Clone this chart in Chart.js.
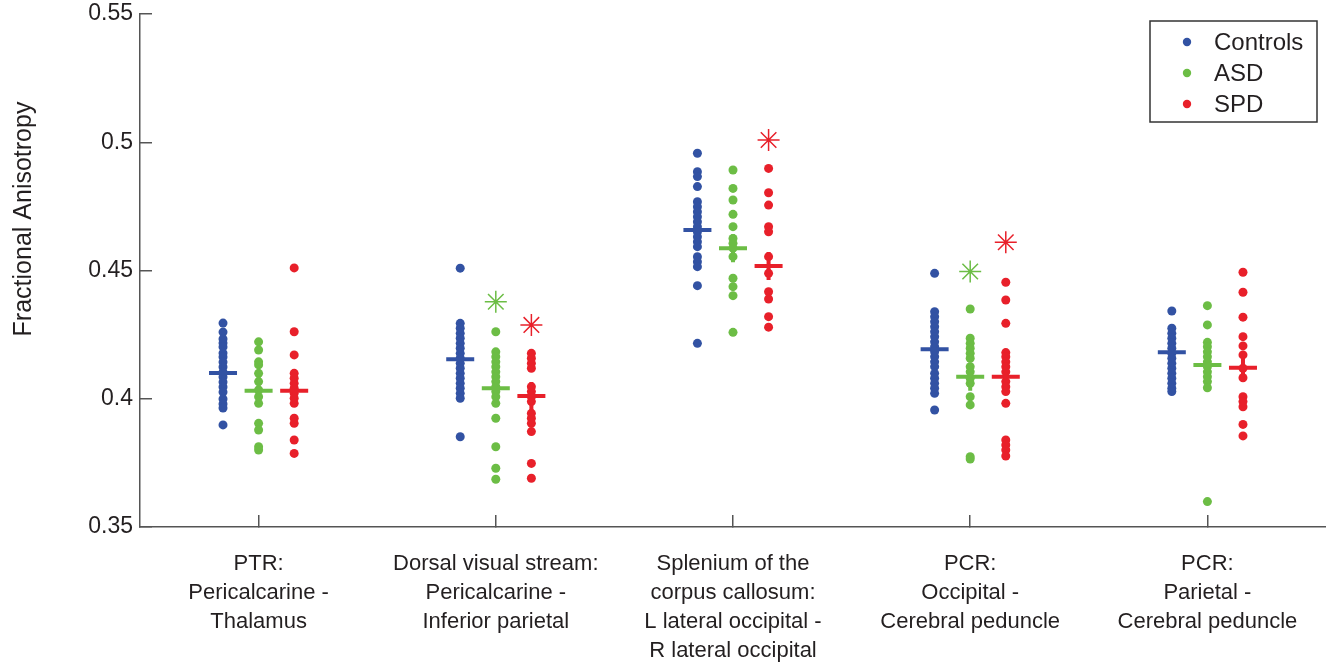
<!DOCTYPE html>
<html>
<head>
<meta charset="utf-8">
<script src="https://cdn.jsdelivr.net/npm/chart.js@4.4.1/dist/chart.umd.min.js"></script>
<style>
  html, body { margin: 0; padding: 0; background: #ffffff; }
  #wrap { width: 1326px; height: 663px; }
</style>
</head>
<body>
<div id="wrap"><canvas id="c" width="1326" height="663"></canvas></div>
<script>
// ---------- DATA ----------
const categories = [
  ["PTR:", "Pericalcarine -", "Thalamus"],
  ["Dorsal visual stream:", "Pericalcarine -", "Inferior parietal"],
  ["Splenium of the", "corpus callosum:", "L lateral occipital -", "R lateral occipital"],
  ["PCR:", "Occipital -", "Cerebral peduncle"],
  ["PCR:", "Parietal -", "Cerebral peduncle"]
];
const seriesNames = ["Controls", "ASD", "SPD"];

const controlsValues = [
  [0.4295, 0.4260, 0.4233, 0.4217, 0.4202, 0.4178, 0.4163, 0.4143, 0.4124, 0.4104, 0.4085, 0.4065, 0.4046, 0.4026, 0.3999, 0.3980, 0.3964, 0.3898],
  [0.4509, 0.4294, 0.4275, 0.4255, 0.4236, 0.4216, 0.4197, 0.4177, 0.4158, 0.4138, 0.4119, 0.4099, 0.4080, 0.4060, 0.4041, 0.4021, 0.4002, 0.3852],
  [0.4957, 0.4885, 0.4866, 0.4827, 0.4768, 0.4749, 0.4729, 0.4710, 0.4690, 0.4671, 0.4651, 0.4632, 0.4612, 0.4593, 0.4554, 0.4534, 0.4515, 0.4441, 0.4216],
  [0.4489, 0.4339, 0.4320, 0.4300, 0.4281, 0.4261, 0.4242, 0.4222, 0.4203, 0.4183, 0.4164, 0.4144, 0.4125, 0.4099, 0.4080, 0.4060, 0.4041, 0.4021, 0.3956],
  [0.4342, 0.4275, 0.4255, 0.4236, 0.4216, 0.4197, 0.4177, 0.4158, 0.4138, 0.4119, 0.4099, 0.4080, 0.4060, 0.4041, 0.4028]
];
const asdValues = [
  [0.4222, 0.4190, 0.4144, 0.4132, 0.4099, 0.4067, 0.4034, 0.4008, 0.3982, 0.3904, 0.3878, 0.3813, 0.3800],
  [0.4261, 0.4183, 0.4164, 0.4144, 0.4125, 0.4105, 0.4086, 0.4067, 0.4047, 0.4028, 0.4008, 0.3982, 0.3924, 0.3813, 0.3729, 0.3686],
  [0.4892, 0.4820, 0.4775, 0.4719, 0.4671, 0.4625, 0.4606, 0.4587, 0.4554, 0.4470, 0.4437, 0.4402, 0.4259],
  [0.4350, 0.4236, 0.4216, 0.4197, 0.4177, 0.4158, 0.4125, 0.4105, 0.4080, 0.4060, 0.4008, 0.3976, 0.3774, 0.3765],
  [0.4363, 0.4288, 0.4220, 0.4203, 0.4183, 0.4164, 0.4144, 0.4125, 0.4105, 0.4086, 0.4067, 0.4043, 0.3599]
];
const spdValues = [
  [0.4510, 0.4261, 0.4171, 0.4099, 0.4080, 0.4060, 0.4041, 0.4021, 0.4002, 0.3982, 0.3924, 0.3904, 0.3839, 0.3787],
  [0.4177, 0.4158, 0.4138, 0.4119, 0.4047, 0.4028, 0.4008, 0.3989, 0.3943, 0.3924, 0.3904, 0.3872, 0.3748, 0.3690],
  [0.4898, 0.4803, 0.4755, 0.4671, 0.4651, 0.4554, 0.4489, 0.4417, 0.4389, 0.4320, 0.4279],
  [0.4454, 0.4385, 0.4294, 0.4180, 0.4164, 0.4144, 0.4125, 0.4105, 0.4067, 0.4047, 0.4028, 0.3982, 0.3839, 0.3820, 0.3800, 0.3777],
  [0.4493, 0.4415, 0.4318, 0.4242, 0.4206, 0.4171, 0.4119, 0.4082, 0.4008, 0.3989, 0.3969, 0.3900, 0.3855]
];
const controlsMeans = [0.4100, 0.4154, 0.4658, 0.4193, 0.4181];
const asdMeans      = [0.4031, 0.4041, 0.4587, 0.4086, 0.4132];
const spdMeans      = [0.4031, 0.4011, 0.4518, 0.4086, 0.4121];
const asdStars = [null, 0.4378, null, 0.4496, null];
const spdStars = [null, 0.4288, 0.5009, 0.4610, null];

const yTicks = [0.35, 0.40, 0.45, 0.50, 0.55];
const yTickLabels = ["0.35", "0.4", "0.45", "0.5", "0.55"];
const yTitle = "Fractional Anisotropy";

// ---------- STYLE ----------
const colors = ["#3252a3", "#6cbd45", "#e8202a"];
const offsets = [-0.15, 0, 0.15];
const textColor = "#231f20";
const axisColor = "#555555";
const FONT = "'Liberation Sans', Arial, sans-serif";

function pts(groups, off) {
  const out = [];
  groups.forEach((arr, g) => arr.forEach(v => out.push({ x: g + 1 + off, y: v })));
  return out;
}
function single(vals, off) {
  const out = [];
  vals.forEach((v, g) => { if (v !== null) out.push({ x: g + 1 + off, y: v }); });
  return out;
}

const allValues = [controlsValues, asdValues, spdValues];
const allMeans = [controlsMeans, asdMeans, spdMeans];
const datasets = [];
for (let s = 0; s < 3; s++) {
  datasets.push({
    label: seriesNames[s],
    data: pts(allValues[s], offsets[s]),
    backgroundColor: colors[s], borderColor: colors[s], borderWidth: 0,
    pointRadius: 4.5, pointStyle: 'circle', order: 3
  });
}
for (let s = 0; s < 3; s++) {
  datasets.push({
    label: seriesNames[s] + " mean",
    data: single(allMeans[s], offsets[s]),
    backgroundColor: colors[s], borderColor: colors[s], borderWidth: 4,
    pointRadius: 14, pointStyle: 'cross', order: 1
  });
}
[[asdStars, 1], [spdStars, 2]].forEach(([vals, s]) => {
  datasets.push({
    label: seriesNames[s] + " significant",
    data: single(vals, offsets[s]),
    backgroundColor: colors[s], borderColor: colors[s], borderWidth: 1.5,
    pointRadius: 11, pointStyle: 'star', order: 1
  });
});

const overlayPlugin = {
  id: 'overlay',
  afterDraw(chart) {
    const ctx = chart.ctx;
    ctx.save();
    // y-axis title
    ctx.fillStyle = textColor;
    ctx.font = "25px " + FONT;
    ctx.translate(24, 219);
    ctx.rotate(-Math.PI / 2);
    ctx.textAlign = 'center';
    ctx.textBaseline = 'middle';
    ctx.fillText(yTitle, 0, 0);
    ctx.restore();

    // legend box
    ctx.save();
    const bx = 1150, by = 21, bw = 167, bh = 101;
    ctx.fillStyle = '#ffffff';
    ctx.fillRect(bx, by, bw, bh);
    ctx.strokeStyle = '#333333';
    ctx.lineWidth = 1.5;
    ctx.strokeRect(bx, by, bw, bh);
    ctx.font = "24px " + FONT;
    ctx.textAlign = 'left';
    ctx.textBaseline = 'middle';
    for (let s = 0; s < 3; s++) {
      const yy = 42 + s * 31;
      ctx.fillStyle = colors[s];
      ctx.beginPath();
      ctx.arc(1187, yy, 4.2, 0, Math.PI * 2);
      ctx.fill();
      ctx.fillStyle = textColor;
      ctx.fillText(chart.data.datasets[s].label, 1214, yy + 1);
    }
    ctx.restore();
  }
};

new Chart(document.getElementById('c'), {
  type: 'scatter',
  data: { datasets },
  options: {
    responsive: false,
    animation: false,
    events: [],
    layout: { autoPadding: false, padding: { top: 14, right: 0, left: 0, bottom: 0 } },
    plugins: { legend: { display: false }, tooltip: { enabled: false } },
    scales: {
      x: {
        type: 'linear', position: 'bottom', min: 0.5, max: 5.5,
        afterBuildTicks: (axis) => { axis.ticks = categories.map((c, i) => ({ value: i + 1 })); },
        afterFit: (axis) => { axis.height = 136; axis.paddingLeft = 0; axis.paddingRight = 0; },
        ticks: {
          autoSkip: false, maxRotation: 0, minRotation: 0,
          padding: 34,
          color: textColor,
          font: { family: FONT, size: 22, lineHeight: 1.32 },
          callback: (v) => categories[Math.round(v) - 1]
        },
        grid: { drawOnChartArea: false, drawTicks: true, tickLength: -12, color: axisColor, lineWidth: 1.5 },
        border: { display: true, color: axisColor, width: 1.5 }
      },
      y: {
        type: 'linear', position: 'left', min: 0.35, max: 0.55,
        afterBuildTicks: (axis) => { axis.ticks = yTicks.map(v => ({ value: v })); },
        afterFit: (axis) => { axis.width = 140; axis.paddingTop = 0; axis.paddingBottom = 0; },
        ticks: {
          padding: 19,
          color: textColor,
          font: { family: FONT, size: 23 },
          callback: (v) => { const i = yTicks.findIndex(t => Math.abs(t - v) < 1e-9); return i >= 0 ? yTickLabels[i] : ''; }
        },
        grid: { drawOnChartArea: false, drawTicks: true, tickLength: -12, color: axisColor, lineWidth: 1.5 },
        border: { display: true, color: axisColor, width: 1.5 }
      }
    }
  },
  plugins: [overlayPlugin]
});
</script>
</body>
</html>
